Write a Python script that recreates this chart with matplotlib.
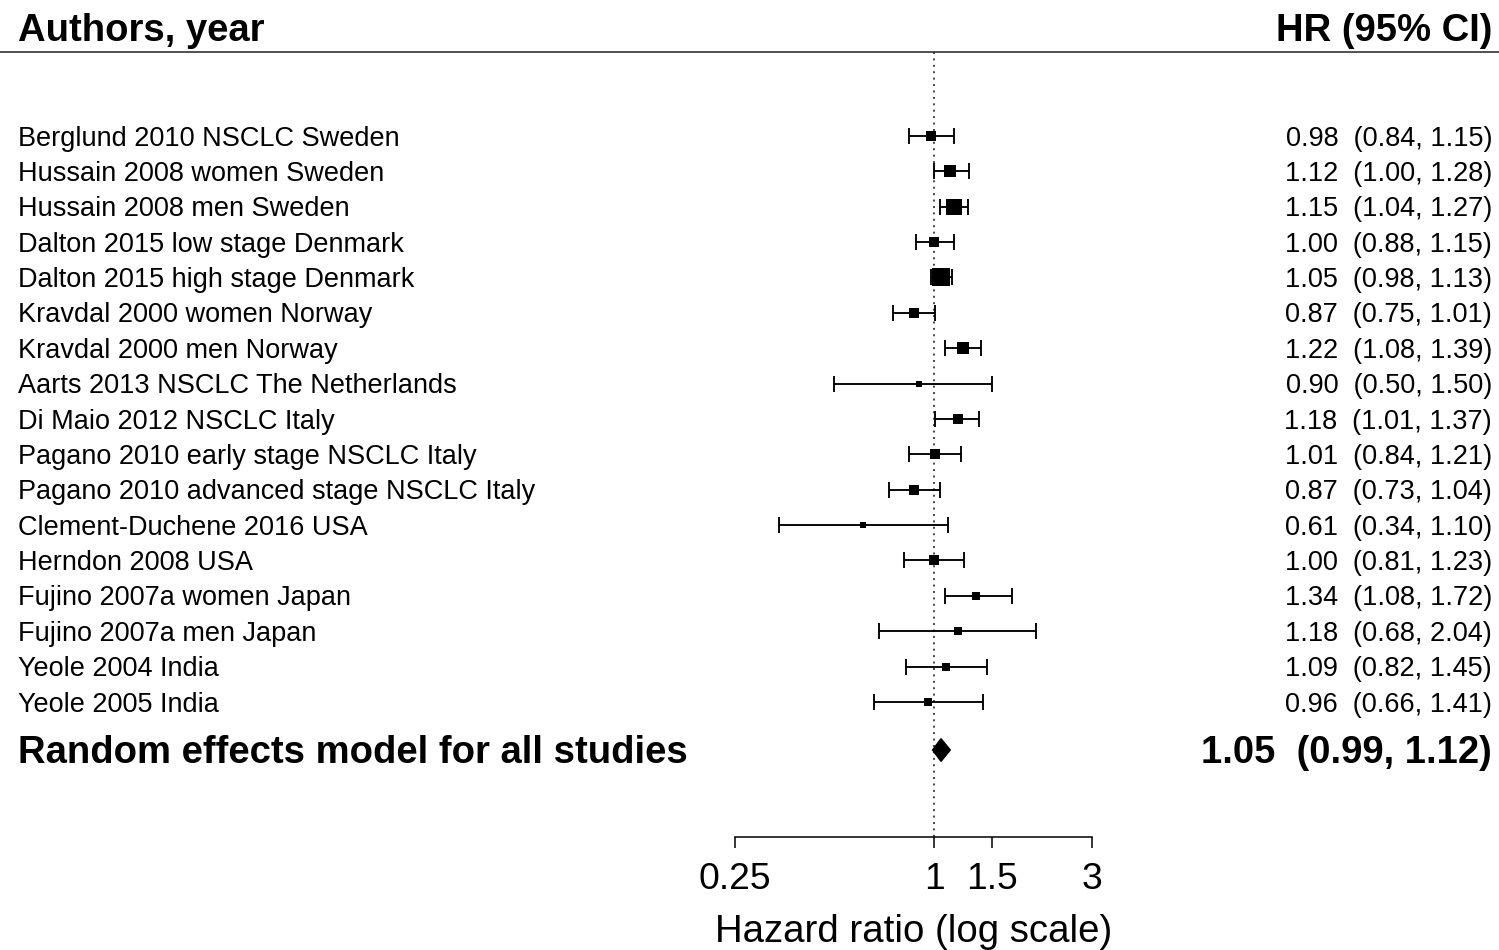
import numpy as np
import matplotlib.pyplot as plt
import matplotlib.transforms as mtransforms

plt.rcParams['font.family'] = ['Liberation Sans', 'DejaVu Sans']

studies = [
    'Berglund 2010 NSCLC Sweden',
    'Hussain 2008 women Sweden',
    'Hussain 2008 men Sweden',
    'Dalton 2015 low stage Denmark',
    'Dalton 2015 high stage Denmark',
    'Kravdal 2000 women Norway',
    'Kravdal 2000 men Norway',
    'Aarts 2013 NSCLC The Netherlands',
    'Di Maio 2012 NSCLC Italy',
    'Pagano 2010 early stage NSCLC Italy',
    'Pagano 2010 advanced stage NSCLC Italy',
    'Clement-Duchene 2016 USA',
    'Herndon 2008 USA',
    'Fujino 2007a women Japan',
    'Fujino 2007a men Japan',
    'Yeole 2004 India',
    'Yeole 2005 India',
]
hr = [0.98, 1.12, 1.15, 1.00, 1.05, 0.87, 1.22, 0.90, 1.18, 1.01, 0.87, 0.61, 1.00, 1.34, 1.18, 1.09, 0.96]
lower = [0.84, 1.00, 1.04, 0.88, 0.98, 0.75, 1.08, 0.50, 1.01, 0.84, 0.73, 0.34, 0.81, 1.08, 0.68, 0.82, 0.66]
upper = [1.15, 1.28, 1.27, 1.15, 1.13, 1.01, 1.39, 1.50, 1.37, 1.21, 1.04, 1.10, 1.23, 1.72, 2.04, 1.45, 1.41]
# study weights (%), square area is proportional to these
weight = [6.0, 7.3, 11.8, 6.0, 17.4, 6.0, 6.6, 1.8, 6.0, 5.4, 5.4, 1.8, 5.4, 3.8, 2.9, 3.4, 2.9]

pooled_label = 'Random effects model for all studies'
pooled_hr = 1.05
pooled_lower = 0.99
pooled_upper = 1.12

xticks = [0.25, 1, 1.5, 3]
xticklabels = ['0.25', '1', '1.5', '3']

hr = np.array(hr)
lower = np.array(lower)
upper = np.array(upper)
weight = np.array(weight)

W, H = 1499, 950
fig = plt.figure(figsize=(W / 100, H / 100), dpi=100)
ax = fig.add_axes([0, 0, 1, 1])
ax.set_xscale('log')

# log axis: 143.6 px per unit of ln(HR), HR = 1 at x = 934 px
ppl = 143.6
x0 = 934
ax.set_xlim(np.exp(-x0 / ppl), np.exp((W - x0) / ppl))
# one study per row, 35.375 px apart, first row at 136 px from the top
rh = 35.375
top = 136
ax.set_ylim((H - top) / rh, -top / rh)

def row(px):
    return (px - top) / rh

y = np.arange(len(studies))
y_pooled = row(750)
y_axis = row(837)
y_header = row(52)

trans = mtransforms.blended_transform_factory(ax.transAxes, ax.transData)
fs_row = 19.5
fs_big = 27.5

# reference line at HR = 1
ax.plot([1, 1], [y_header, y_axis], color='#444444', lw=1.4,
        ls=(0, (1.0, 2.3)), zorder=1)
ax.axhline(y_header, color='#333333', lw=1.2)

# confidence intervals and weighted squares
ax.errorbar(hr, y, xerr=[hr - lower, upper - hr], fmt='none', ecolor='black',
            elinewidth=1.35, capsize=6, capthick=1.35, zorder=2)
side = 10.8 * np.sqrt(weight / 6.0) * 0.72
for xi, yi, s in zip(hr, y, side):
    ax.plot(xi, yi, 's', ms=s, color='black', mec='black', mew=0, zorder=3)

# pooled estimate diamond
dh = 0.32
ax.fill([pooled_lower, pooled_hr, pooled_upper, pooled_hr],
        [y_pooled, y_pooled - dh, y_pooled, y_pooled + dh],
        color='black', zorder=3)

# text columns
for yi, name, h, lo, hi in zip(y, studies, hr, lower, upper):
    ax.text(18 / W, yi + 0.27, name, transform=trans, fontsize=fs_row,
            va='baseline', ha='left')
    ax.text(1492 / W, yi + 0.27, f'{h:.2f}  ({lo:.2f}, {hi:.2f})',
            transform=trans, fontsize=fs_row, va='baseline', ha='right')

ax.text(18 / W, y_pooled + 0.37, pooled_label, transform=trans,
        fontsize=fs_big, fontweight='bold', va='baseline', ha='left')
ax.text(1492 / W, y_pooled + 0.37,
        f'{pooled_hr:.2f}  ({pooled_lower:.2f}, {pooled_upper:.2f})',
        transform=trans, fontsize=fs_big, fontweight='bold',
        va='baseline', ha='right')

fig.text(18 / W, 1 - 41 / H, 'Authors, year', fontsize=fs_big,
         fontweight='bold', va='baseline', ha='left')
fig.text(1492 / W, 1 - 41 / H, 'HR (95% CI)', fontsize=fs_big,
         fontweight='bold', va='baseline', ha='right')

# bottom axis
for s in ['left', 'top', 'right']:
    ax.spines[s].set_visible(False)
ax.set_yticks([])
ax.spines['bottom'].set_position(('data', y_axis))
ax.spines['bottom'].set_bounds(xticks[0], xticks[-1])
ax.spines['bottom'].set_linewidth(1.1)
ax.set_xticks(xticks, xticklabels)
ax.xaxis.set_minor_locator(plt.NullLocator())
ax.tick_params(axis='x', direction='out', length=8, width=1.1,
               labelsize=26.8, pad=10)
ax.text(np.sqrt(xticks[0] * xticks[-1]), row(942), 'Hazard ratio (log scale)',
        fontsize=27.6, ha='center', va='baseline')

fig.savefig('out.png', dpi=100)
